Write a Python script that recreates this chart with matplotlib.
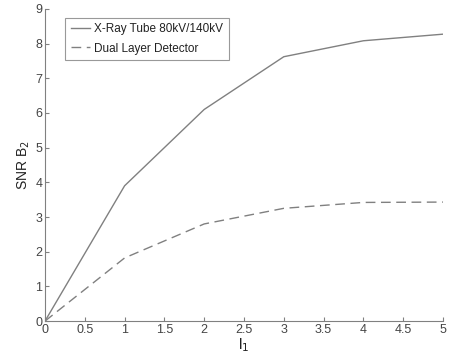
import matplotlib.pyplot as plt

plt.rcParams['font.family'] = ['Liberation Sans', 'DejaVu Sans']

l1 = [0, 1, 2, 3, 4, 5]
snr_tube = [0, 3.9, 6.1, 7.62, 8.08, 8.27]
snr_dual = [0, 1.82, 2.8, 3.25, 3.42, 3.43]

grey = '#808080'
text_col = '#444444'

fig = plt.figure(figsize=(4.56, 3.54), dpi=100)
ax = fig.add_axes([0.0987, 0.093, 0.8727, 0.882])

ax.plot(l1, snr_tube, color=grey, linewidth=1.0, label='X-Ray Tube 80kV/140kV')
ax.plot(l1, snr_dual, color=grey, linewidth=1.0, linestyle=(0, (7, 4)), label='Dual Layer Detector')

ax.set_xlim(0, 5)
ax.set_ylim(0, 9)
ax.set_xticks([0, 0.5, 1, 1.5, 2, 2.5, 3, 3.5, 4, 4.5, 5])
ax.set_xticklabels(['0', '0.5', '1', '1.5', '2', '2.5', '3', '3.5', '4', '4.5', '5'])
ax.set_yticks(range(10))

ax.spines['top'].set_visible(False)
ax.spines['right'].set_visible(False)
for s in ('left', 'bottom'):
    ax.spines[s].set_color(grey)
ax.tick_params(direction='in', length=3, color=grey, labelcolor=text_col, labelsize=9, pad=2)

ax.set_xlabel('l$_1$', color='#222222', fontsize=11, labelpad=0)
ax.set_ylabel('SNR B$_2$', color='#222222', fontsize=10, labelpad=2)

leg = ax.legend(loc='upper left', bbox_to_anchor=(0.05, 0.972), borderaxespad=0, fontsize=8.5,
                frameon=True, fancybox=False, handlelength=1.6, handletextpad=0.4,
                borderpad=0.5, labelspacing=0.6)
leg.get_frame().set_edgecolor(grey)
leg.get_frame().set_linewidth(0.8)
for t in leg.get_texts():
    t.set_color('#222222')

fig.savefig('out.png', dpi=100)
